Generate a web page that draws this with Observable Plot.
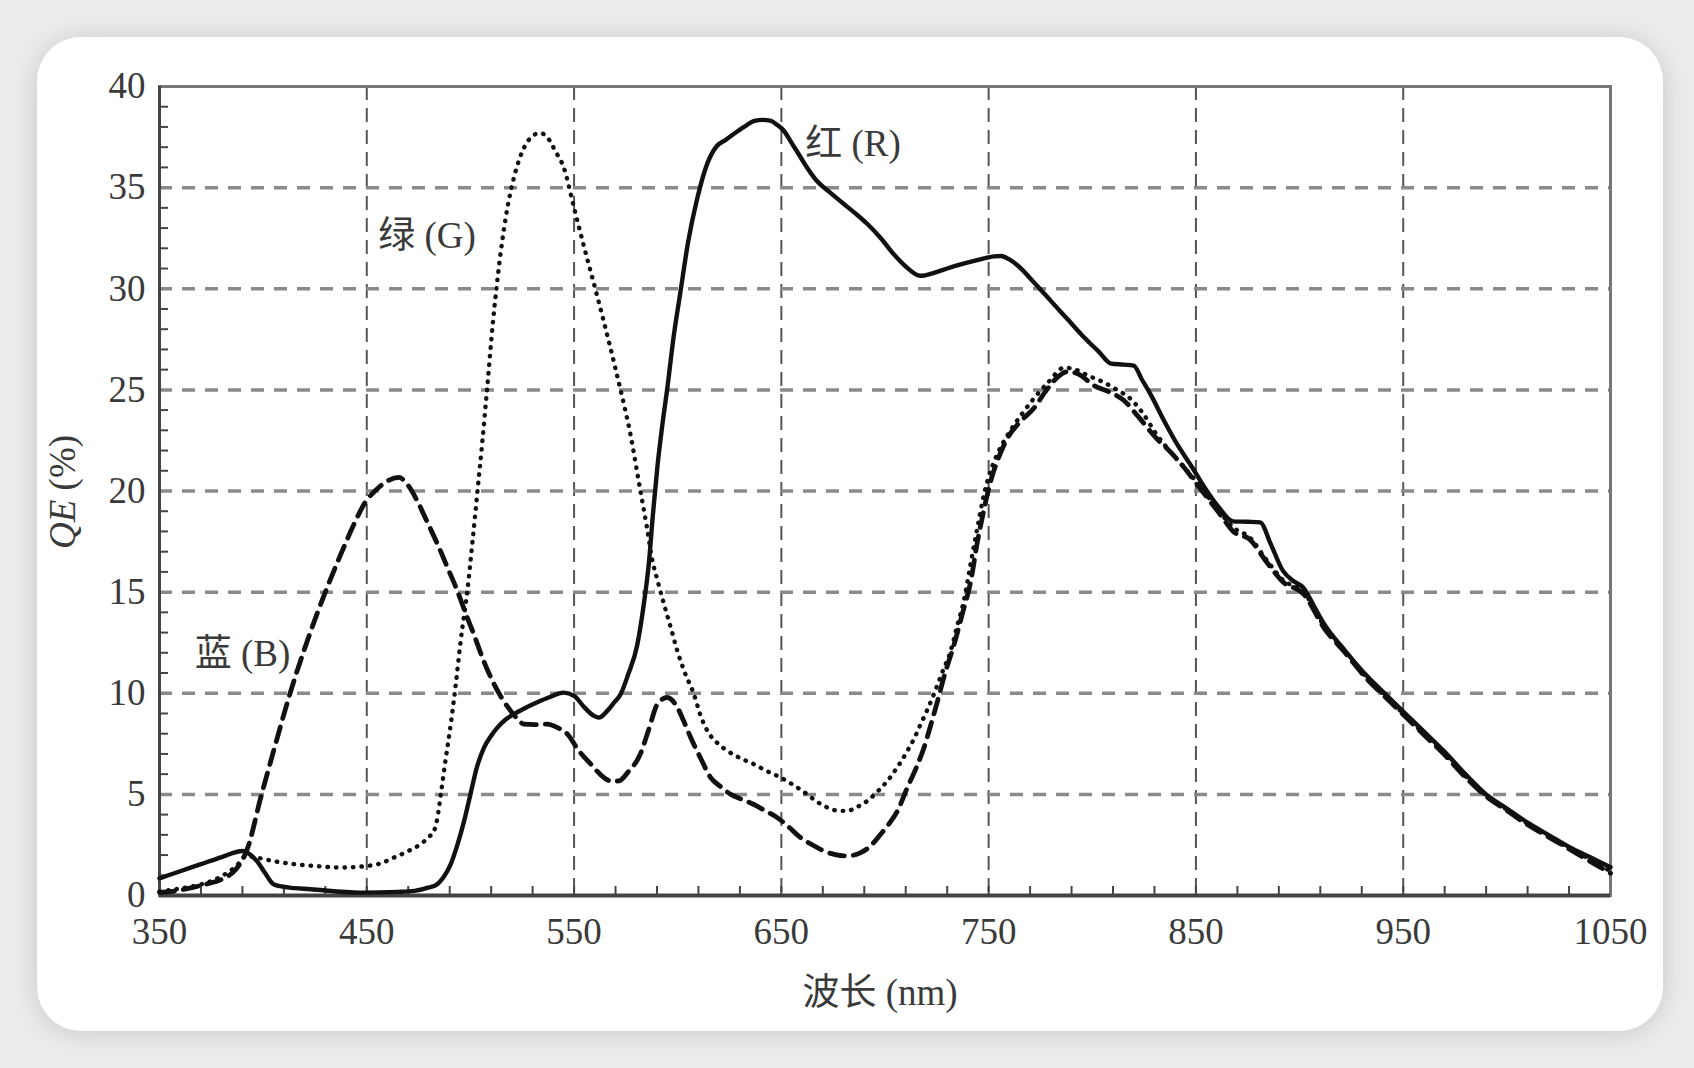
<!DOCTYPE html>
<html>
<head>
<meta charset="utf-8">
<script src="https://cdn.jsdelivr.net/npm/d3@7"></script>
<script src="https://cdn.jsdelivr.net/npm/@observablehq/plot@0.6"></script>
<style>
  html, body { margin: 0; padding: 0; width: 1694px; height: 1068px; overflow: hidden; background: #ececec; }
  #card { position: absolute; left: 37px; top: 37px; width: 1626px; height: 994px; background: #fff; border-radius: 44px; box-shadow: 0 2px 26px rgba(0,0,0,0.16); }
  #chart { position: absolute; left: 0; top: 0; }
  #chart svg { display: block; }
</style>
</head>
<body>
<div id="card"></div>
<div id="chart"></div>
<script>
// Wavelength (nm) / QE (%) for each channel
const redNm  = [350,360,370,380,390,394,397,401,405,412,423,447,465,473,480,484,487,490.5,494,497,500,503,506.5,510,513,517,521,526,532,538,545,550,555,559.6,562,566,569,572.5,576,580.5,583.5,586.2,588,590.2,592.5,595,598,601.4,605,609.5,614.3,619,623,627,632,637,641,645,648,651.3,655,659.3,663,667.4,673,680,686,691.5,698,704.3,710,717,724,730,736.5,744,752.6,756,760,764,772,780,788,796,803,809,815,820,824,828,834.5,841,848,854,861,868,875,881,886,892,897,902,907,912,922,933,942,950,960,970,980,990,1000,1010,1020,1030,1040,1050];
const redQE  = [0.85,1.2,1.55,1.9,2.2,2.0,1.7,1.1,0.56,0.4,0.31,0.14,0.18,0.23,0.4,0.56,0.9,1.55,2.6,3.7,5.0,6.3,7.3,7.9,8.3,8.7,8.97,9.25,9.54,9.8,10.03,9.87,9.3,8.88,8.8,9.13,9.5,9.96,10.9,12.4,14.3,16.55,18.8,21.2,23.2,25.1,27.6,29.9,32.3,34.5,36.2,37.07,37.35,37.65,38.0,38.3,38.35,38.3,38.1,37.8,37.2,36.5,35.9,35.3,34.8,34.2,33.7,33.2,32.5,31.7,31.1,30.64,30.8,31.0,31.2,31.4,31.6,31.62,31.45,31.15,30.3,29.4,28.5,27.6,26.9,26.3,26.25,26.2,25.5,24.8,23.5,22.3,21.2,20.2,19.2,18.5,18.48,18.45,17.4,16.05,15.55,15.2,14.3,13.4,12.1,10.8,9.9,9.1,8.1,7.1,6.0,5.0,4.3,3.6,3.0,2.4,1.9,1.4];

const greenNm = [350,360,370,380,387,392,397,405,415,426,437,450,457,463,470,476,480,482.4,484,485.7,488,490.5,493,495.3,498.5,501,503.4,505.8,508,511,514,517,521,526,530,533.5,537,541,545,550,555,561,567,572.5,577,582,585,587.8,590.2,593.4,596.5,599.8,603.5,607.8,611,614.3,619,624,630,636.8,643,649.7,656,662.5,667,672.2,677,681.9,686,691.5,696,701.2,706,710.8,714,717.2,720.5,723.6,727.5,731.7,735,738.1,741.3,744.6,747.8,751,755,760,766,772,779,786.4,792,798,805,812,818,824,831,838,844,850,856,862,868,876,884,892,902,912,922,933,942,950,960,970,980,990,1000,1010,1020,1030,1040,1050];
const greenQE = [0.2,0.35,0.55,0.95,1.45,1.95,1.87,1.7,1.55,1.45,1.38,1.46,1.6,1.87,2.2,2.54,2.9,3.19,3.8,5.0,6.7,8.47,10.5,12.6,15.06,17.5,20,22.5,25,28.5,31.3,33.5,35.5,37.0,37.55,37.7,37.5,36.8,36.0,34.0,32.0,29.7,27.3,24.96,22.9,20.0,18.3,16.55,15.6,14.4,13.3,12.1,11.0,9.96,8.9,8.14,7.55,7.15,6.8,6.49,6.15,5.83,5.45,5.0,4.65,4.35,4.2,4.18,4.35,4.68,5.1,5.67,6.35,7.15,7.75,8.47,9.2,9.96,11.0,12.1,13.4,14.6,16.4,18.2,19.85,21.0,22.0,22.9,23.8,24.6,25.4,26.1,26.0,25.7,25.4,25.0,24.6,23.9,22.8,21.9,21.2,20.5,19.7,18.9,18.2,17.7,16.6,15.6,15.0,13.3,12.05,10.7,9.8,9.0,8.0,7.0,5.9,4.95,4.25,3.55,2.95,2.35,1.8,1.2];

const blueNm = [350,356,364,372,380,386,389,392,399,406,413,421,430,438,444,449,455,460,465.5,469,474.4,479,484,489,493.7,497.5,501.7,506,511.4,515.5,519.4,522.5,525.8,531,537,542,546.8,552,558,564.4,568,571.7,576,582,586,590.2,595,599.8,603,606.3,611,615.9,620.5,625.6,631,636.8,642,648,654,659.3,665,670.6,676,680.2,684,688.3,693,697.9,702,706,710.8,715,718.8,722,725.3,729,733.3,737.5,741.3,744.6,748,751,755,759,765,771.9,778,784,788,793,801,808,815,822,831,838,844,850,856,862,868,876,884,892,902,912,922,933,942,950,960,970,980,990,1000,1010,1020,1030,1040,1050];
const blueQE = [0.15,0.2,0.35,0.55,0.8,1.2,1.6,2.2,4.9,7.5,10.0,12.5,15.0,17.0,18.4,19.4,20.1,20.5,20.67,20.4,19.5,18.5,17.4,16.2,15.06,14.0,12.9,11.7,10.45,9.7,9.13,8.75,8.47,8.45,8.47,8.3,7.98,7.2,6.5,5.83,5.65,5.67,6.1,7.0,8.2,9.46,9.79,9.3,8.6,7.8,6.8,5.83,5.4,5.0,4.75,4.5,4.2,3.85,3.35,2.86,2.5,2.2,2.02,1.96,1.98,2.12,2.45,3.03,3.55,4.18,5.34,6.3,7.31,8.4,9.6,11.0,12.4,14.0,15.5,17.5,19.2,20.5,21.7,22.6,23.4,24.1,25.0,25.7,25.9,25.8,25.2,24.9,24.5,23.7,22.6,21.9,21.2,20.4,19.6,18.8,18.0,17.6,16.5,15.5,14.9,13.2,12.0,10.65,9.75,8.95,7.95,6.95,5.85,4.9,4.2,3.5,2.9,2.3,1.7,1.1];

// Axis ticks
const xTicks = [350,450,550,650,750,850,950,1050];
const xGrid  = [450,550,650,750,850,950];
const xMinor = d3.range(370, 1050, 20);
const yTicks = [0,5,10,15,20,25,30,35,40];
const yGrid  = [5,10,15,20,25,30,35];
const yMinor = d3.range(1, 40, 1).filter(v => v % 5 !== 0);

// Curve labels
const labelText = ["红 (R)", "绿 (G)", "蓝 (B)"];
const labelNm   = [661.5, 455.5, 367];
const labelQE   = [37.15, 32.6, 11.95];

const toRows = (xs, ys) => xs.map((x, i) => ({nm: x, qe: ys[i]}));
const red = toRows(redNm, redQE);
const green = toRows(greenNm, greenQE);
const blue = toRows(blueNm, blueQE);
const labels = labelText.map((t, i) => ({text: t, nm: labelNm[i], qe: labelQE[i]}));

const FONT = "'Liberation Serif', 'Noto Sans CJK SC', serif";
const INK = "#3a3a3a";

const svg = Plot.plot({
  width: 1694,
  height: 1068,
  marginLeft: 159,
  marginRight: 84,
  marginTop: 86,
  marginBottom: 173,
  style: {background: "transparent", fontFamily: FONT, fontSize: "37px", color: INK, overflow: "visible"},
  x: {domain: [350, 1050]},
  y: {domain: [0, 40]},
  marks: [
    Plot.gridX(xGrid, {stroke: "#555", strokeOpacity: 1, strokeWidth: 2, strokeDasharray: "14 8"}),
    Plot.gridY(yGrid, {stroke: "#8a8a8a", strokeOpacity: 1, strokeWidth: 3.5, strokeDasharray: "13 10"}),
    Plot.frame({stroke: "#777", strokeWidth: 3}),
    Plot.axisX(xMinor, {tickSize: 9, dy: -9, tickFormat: () => "", label: null, stroke: "#444", strokeWidth: 2}),
    Plot.axisY(yMinor, {tickSize: 9, dx: 9, tickFormat: () => "", label: null, stroke: "#444", strokeWidth: 2}),
    Plot.axisX(xTicks, {tickSize: 0, tickPadding: 22, tickFormat: d => String(d), label: null, fontSize: 37, fill: INK}),
    Plot.axisY(yTicks, {tickSize: 0, tickPadding: 14, tickFormat: d => String(d), label: null, fontSize: 37, fill: INK}),
    Plot.ruleY([0], {stroke: "#444", strokeWidth: 4}),
    Plot.ruleX([350], {stroke: "#444", strokeWidth: 3}),
    Plot.line(green, {x: "nm", y: "qe", curve: "monotone-x", stroke: "#111", strokeWidth: 4.4, strokeDasharray: "0.5 8", strokeLinecap: "round"}),
    Plot.line(blue, {x: "nm", y: "qe", curve: "monotone-x", stroke: "#111", strokeWidth: 4.8, strokeDasharray: "15 9"}),
    Plot.line(red, {x: "nm", y: "qe", curve: "monotone-x", stroke: "#111", strokeWidth: 4.4}),
    Plot.text(labels, {x: "nm", y: "qe", text: "text", textAnchor: "start", fontSize: 37, fill: INK})
  ]
});

const s = d3.select(svg);
// y-axis title with italic QE
const yt = s.append("text")
  .attr("transform", "translate(62,492) rotate(-90)")
  .attr("text-anchor", "middle")
  .attr("dominant-baseline", "central")
  .attr("font-family", FONT)
  .attr("font-size", 37)
  .attr("fill", INK);
yt.append("tspan").attr("font-style", "italic").text("QE");
yt.append("tspan").text(" (%)");
// x-axis title
s.append("text")
  .attr("x", 880).attr("y", 992)
  .attr("text-anchor", "middle")
  .attr("dominant-baseline", "central")
  .attr("font-family", FONT)
  .attr("font-size", 37)
  .attr("fill", INK)
  .text("波长 (nm)");

document.getElementById("chart").appendChild(svg);
</script>
</body>
</html>
